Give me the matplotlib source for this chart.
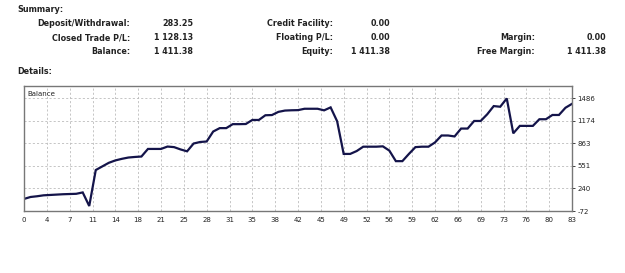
import matplotlib
matplotlib.use("Agg")
import matplotlib.pyplot as plt

# summary table
summary_cols = [
    [("Deposit/Withdrawal:", "283.25"), ("Closed Trade P/L:", "1 128.13"), ("Balance:", "1 411.38")],
    [("Credit Facility:", "0.00"), ("Floating P/L:", "0.00"), ("Equity:", "1 411.38")],
    [None, ("Margin:", "0.00"), ("Free Margin:", "1 411.38")],
]

# balance curve, one value per closed trade
balance = [95, 122, 132, 145, 150, 155, 160, 163, 166, 185,
           -3, 495, 545, 595, 628, 650, 668, 676, 682, 787,
           787, 787, 820, 812, 780, 754, 862, 883, 890, 1028,
           1075, 1075, 1130, 1130, 1132, 1188, 1188, 1253, 1256, 1300,
           1318, 1322, 1324, 1343, 1343, 1343, 1321, 1362, 1170, 718,
           718, 758, 818, 818, 818, 823, 764, 618, 618, 718,
           812, 818, 818, 877, 973, 973, 960, 1069, 1069, 1174,
           1174, 1266, 1380, 1371, 1486, 1003, 1106, 1106, 1106, 1198,
           1198, 1257, 1257, 1357, 1411]

x_labels = ["0", "4", "7", "11", "14", "18", "21", "25", "28", "31", "35", "38", "42",
            "45", "49", "52", "56", "59", "62", "66", "69", "73", "76", "80", "83"]
y_ticks = [-72, 240, 551, 863, 1174, 1486]

W, H = 625, 273
fig = plt.figure(figsize=(W / 100, H / 100), dpi=100)
fig.patch.set_facecolor("white")

def fx(px):
    return px / W

def fy(py):
    return 1 - py / H

bold = dict(fontsize=5.8, fontweight="bold", color="#222222", family="DejaVu Sans")
fig.text(fx(17), fy(10), "Summary:", ha="left", va="center", **bold)
fig.text(fx(17), fy(72), "Details:", ha="left", va="center", **bold)

label_right = [130, 333, 535]
value_right = [193, 390, 606]
row_y = [24, 38, 52]
for c, col in enumerate(summary_cols):
    for r, item in enumerate(col):
        if item is None:
            continue
        lab, val = item
        fig.text(fx(label_right[c]), fy(row_y[r]), lab, ha="right", va="center", **bold)
        fig.text(fx(value_right[c]), fy(row_y[r]), val, ha="right", va="center", **bold)

ax = fig.add_axes([fx(24), fy(211), fx(572 - 24), (211 - 86) / H])
xs = list(range(len(balance)))
ax.plot(xs, balance, color="#14144a", lw=1.6, solid_joinstyle="miter")
ax.set_xlim(0, 84)
ax.set_ylim(-72, 1658)

xpos = [i * 3.5 for i in range(len(x_labels))]
ax.set_xticks(xpos)
ax.set_xticklabels(x_labels)
ax.set_yticks(y_ticks)
ax.set_yticklabels([str(v) for v in y_ticks])
ax.yaxis.tick_right()
ax.tick_params(axis="x", length=0, labelsize=5, pad=4, colors="#222222")
ax.tick_params(axis="y", length=2, width=0.6, labelsize=5, pad=2, colors="#222222",
               direction="out")
ax.grid(True, color="#bbbbbb", ls=(0, (2.5, 2.5)), lw=0.6)
for s in ax.spines.values():
    s.set_color("#777777")
    s.set_linewidth(1.0)
ax.text(0.006, 0.96, "Balance", transform=ax.transAxes, ha="left", va="top",
        fontsize=5, color="#222222")

fig.savefig("out.png", dpi=100)
